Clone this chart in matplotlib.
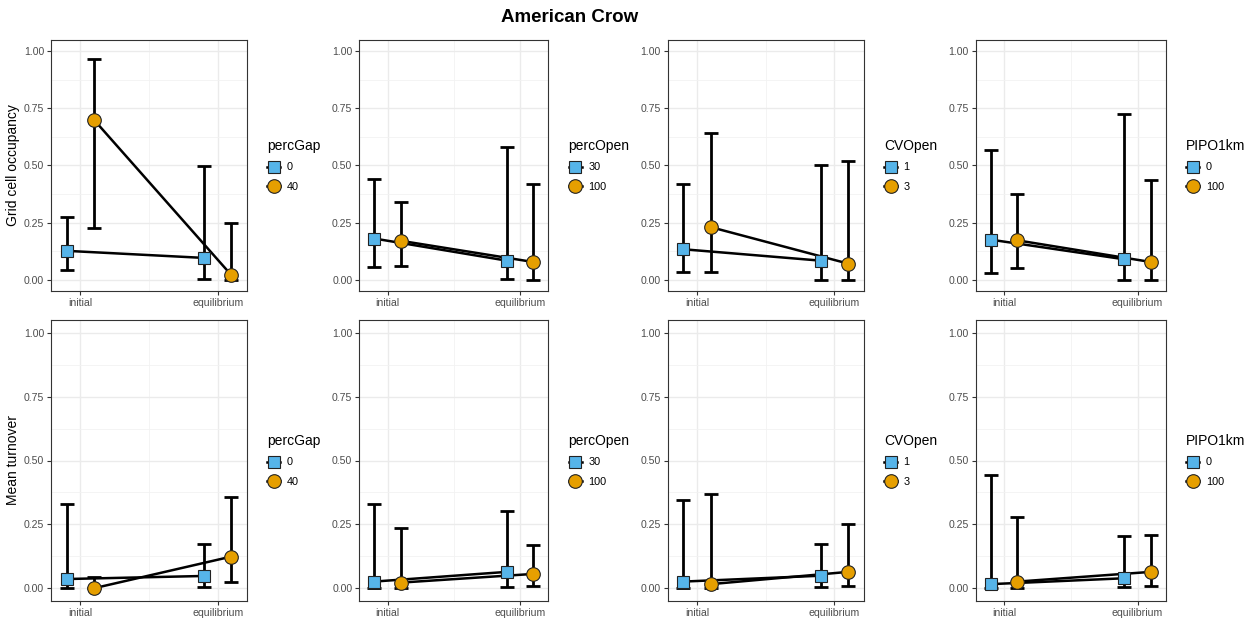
import matplotlib.pyplot as plt
from matplotlib.lines import Line2D
import numpy as np

plt.rcParams["font.family"] = ["Liberation Sans", "DejaVu Sans"]

# factors shown in the four columns and their two levels
factors = ["percGap", "percOpen", "CVOpen", "PIPO1km"]
levels = [["0", "40"], ["30", "100"], ["1", "3"], ["0", "100"]]
times = ["initial", "equilibrium"]

# grid cell occupancy: [panel][level][initial, equilibrium]
occ_mean = [[[0.126, 0.095], [0.700, 0.019]],
            [[0.180, 0.083], [0.170, 0.077]],
            [[0.133, 0.083], [0.230, 0.070]],
            [[0.175, 0.089], [0.172, 0.077]]]
occ_lo = [[[0.041, 0.003], [0.224, 0.000]],
          [[0.053, 0.003], [0.058, 0.000]],
          [[0.032, 0.000], [0.035, 0.000]],
          [[0.031, 0.000], [0.051, 0.000]]]
occ_hi = [[[0.275, 0.496], [0.966, 0.246]],
          [[0.440, 0.579], [0.338, 0.418]],
          [[0.418, 0.504], [0.642, 0.520]],
          [[0.569, 0.725], [0.377, 0.436]]]

# mean turnover
turn_mean = [[[0.036, 0.048], [0.000, 0.124]],
             [[0.026, 0.064], [0.022, 0.056]],
             [[0.026, 0.049], [0.016, 0.064]],
             [[0.016, 0.039], [0.026, 0.064]]]
turn_lo = [[[0.000, 0.005], [0.000, 0.023]],
           [[0.000, 0.005], [0.000, 0.009]],
           [[0.000, 0.005], [0.000, 0.009]],
           [[0.000, 0.003], [0.000, 0.009]]]
turn_hi = [[[0.331, 0.173], [0.042, 0.358]],
           [[0.331, 0.302], [0.234, 0.169]],
           [[0.345, 0.172], [0.367, 0.251]],
           [[0.444, 0.204], [0.279, 0.208]]]

colors = ["#56B4E9", "#E69F00"]
markers = ["s", "o"]
msizes = [8.8, 9.8]
dodge = [-0.1, 0.1]

W, H = 1250, 619
fig = plt.figure(figsize=(W / 100, H / 100), dpi=100)

col_left = [51, 359.3, 667.7, 975.7]
col_right = [247, 548.3, 863.7, 1166]
rows = [(40, 291), (320, 601)]
row_data = [(occ_mean, occ_lo, occ_hi, "Grid cell occupancy"),
            (turn_mean, turn_lo, turn_hi, "Mean turnover")]

x = np.arange(1, 3)
for r, (top, bot) in enumerate(rows):
    mean, lo, hi, ylab = row_data[r]
    for c in range(4):
        l, rr = col_left[c], col_right[c]
        ax = fig.add_axes([l / W, 1 - bot / H, (rr - l) / W, (bot - top) / H])
        ax.set_xlim(0.787, 2.213)
        ax.set_ylim(-0.05, 1.05)
        ax.set_xticks([1, 2])
        ax.set_xticklabels(times)
        ax.set_xticks([1.5], minor=True)
        ax.set_yticks([0, 0.25, 0.5, 0.75, 1.0])
        ax.set_yticklabels([f"{v:.2f}" for v in [0, 0.25, 0.5, 0.75, 1.0]])
        ax.set_yticks([0.125, 0.375, 0.625, 0.875], minor=True)
        ax.grid(which="major", color="#EBEBEB", lw=1.0)
        ax.grid(which="minor", color="#F2F2F2", lw=0.6)
        ax.set_axisbelow(True)
        ax.tick_params(which="major", length=3, width=0.8, color="#333333",
                       labelsize=7.6, labelcolor="#4D4D4D", pad=2)
        ax.tick_params(which="minor", length=0)
        for s in ax.spines.values():
            s.set_color("#333333")
            s.set_linewidth(0.8)

        handles = []
        for k in range(2):
            xs = x + dodge[k]
            m = np.array(mean[c][k])
            ax.errorbar(xs, m, yerr=[m - np.array(lo[c][k]), np.array(hi[c][k]) - m],
                        fmt="none", ecolor="black", elinewidth=2.0, capsize=5.2,
                        capthick=2.0, zorder=2)
            ax.plot(xs, m, color="black", lw=1.8, zorder=3)
            ax.plot(xs, m, ls="none", marker=markers[k], ms=msizes[k],
                    mfc=colors[k], mec="#222222", mew=0.8, zorder=4)
            handles.append(Line2D([], [], color="black", lw=1.8, marker=markers[k],
                                  ms=msizes[k], mfc=colors[k], mec="#222222", mew=0.8))

        leg = ax.legend(handles, levels[c], title=factors[c], loc="center left",
                        bbox_to_anchor=(1 + 16 / (rr - l), 0.5), frameon=False,
                        fontsize=7.8, title_fontsize=10, handlelength=1.2,
                        handletextpad=0.6, labelspacing=0.9, borderaxespad=0,
                        alignment="left")

        if c == 0:
            ax.set_ylabel(ylab, fontsize=10, color="black")
            ax.yaxis.set_label_coords(-0.16, 0.5)

fig.text(570 / W, 1 - 18 / H, "American Crow", ha="center", va="center",
         fontsize=13.5, fontweight="bold")

fig.savefig("out.png", dpi=100)
